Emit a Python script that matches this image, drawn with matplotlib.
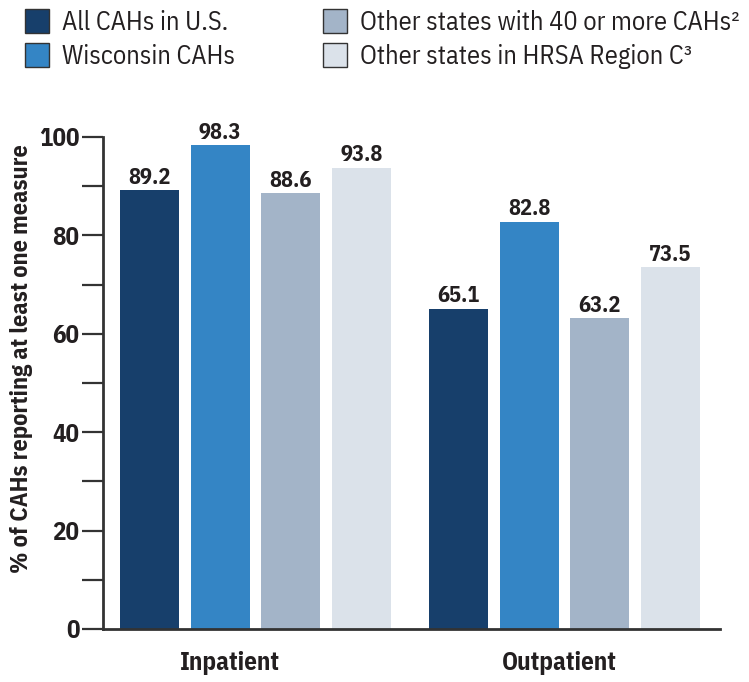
import numpy as np
import matplotlib.pyplot as plt
from matplotlib.patches import Rectangle

plt.rcParams['font.family'] = ['IBM Plex Sans Condensed', 'DejaVu Sans']

# Chart data
groups = ['Inpatient', 'Outpatient']
series = ['All CAHs in U.S.', 'Wisconsin CAHs',
          'Other states with 40 or more CAHs²', 'Other states in HRSA Region C³']
all_us = [89.2, 65.1]
wisconsin = [98.3, 82.8]
other_40 = [88.6, 63.2]
region_c = [93.8, 73.5]
colors = ['#173f6b', '#3485c5', '#a3b4c8', '#dbe2ea']

values = [all_us, wisconsin, other_40, region_c]
text_color = '#231f20'
W, H = 749, 682

fig = plt.figure(figsize=(W / 100, H / 100), dpi=100)
ax = fig.add_axes([103 / W, 53 / H, 617 / W, 492 / H])

group_x = np.arange(len(groups)) * 5.25
for i, (vals, col) in enumerate(zip(values, colors)):
    xs = group_x + (i - 1.5) * 1.2
    ax.bar(xs, vals, width=1.0, color=col, zorder=2)
    for x, v in zip(xs, vals):
        ax.text(x, v + 0.5, f'{v:.1f}', ha='center', va='bottom',
                fontsize=16, fontweight='bold', color=text_color)

ax.set_xlim(-2.59, 7.89)
ax.set_ylim(0, 100)
ax.set_yticks([0, 20, 40, 60, 80, 100])
ax.set_yticks([10, 30, 50, 70, 90], minor=True)
ax.tick_params(axis='y', which='both', length=15, width=1.6, color='#333333',
               labelsize=18, labelcolor=text_color, pad=2)
for lab in ax.get_yticklabels():
    lab.set_fontweight('bold')

# category labels sit a little left of the group centres in the original
ax.set_xticks(group_x + np.array([-0.44, -0.09]))
ax.set_xticklabels(groups, fontsize=18, fontweight='bold', color=text_color)
ax.tick_params(axis='x', length=0, pad=16)

for s in ['top', 'right']:
    ax.spines[s].set_visible(False)
for s in ['left', 'bottom']:
    ax.spines[s].set_linewidth(2)
    ax.spines[s].set_color('#333333')

fig.text(22 / W, 1 - 359 / H, '% of CAHs reporting at least one measure',
         rotation=90, ha='center', va='center', fontsize=17.5,
         fontweight='bold', color=text_color)

# legend, two columns of two
leg_pos = [(25, 9), (25, 43), (323, 9), (323, 43)]
for label, col, (px, py) in zip(series, colors, leg_pos):
    fig.add_artist(Rectangle((px / W, 1 - (py + 24) / H), 24 / W, 24 / H,
                             transform=fig.transFigure, facecolor=col,
                             edgecolor='#333333', linewidth=1))
    fig.text((px + 37) / W, 1 - (py + 21) / H, label, ha='left', va='baseline',
             fontsize=19, color=text_color)

fig.savefig('out.png', dpi=100)
